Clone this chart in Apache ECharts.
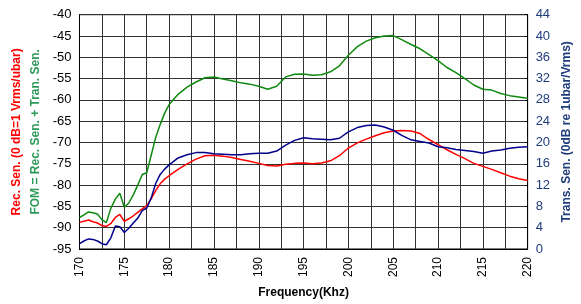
<!DOCTYPE html>
<html>
<head>
<meta charset="utf-8">
<script src="https://cdn.jsdelivr.net/npm/echarts@6/dist/echarts.min.js"></script>
<style>
    html,body{margin:0;padding:0;background:#fff;}
    #chart{width:581px;height:304px;}
</style>
</head>
<body>
<div id="chart"></div>
<script>
// frequency in kHz
var freq = [170,170.5,171,171.5,172,172.5,173,173.5,174,174.5,175,175.5,176,176.5,177,177.5,178,178.5,179,179.5,
    180,181,182,183,184,185,186,187,188,189,190,191,192,193,194,195,196,197,198,199,
    200,201,202,203,204,205,206,207,208,209,210,211,212,213,214,215,216,217,218,219,220];
// Rec. Sen. (dB, left axis)
var recSen = [-88.75,-88.5,-88.2,-88.6,-88.9,-89.5,-89.7,-89.0,-87.6,-86.9,-88.5,-87.9,-87.2,-86.4,-85.6,-84.8,-83.2,-81.3,-79.7,-78.6,
    -77.8,-76.3,-75.0,-73.9,-73.1,-73.0,-73.2,-73.5,-74.0,-74.4,-74.9,-75.4,-75.5,-75.1,-74.9,-74.8,-75.0,-74.8,-74.3,-73.1,
    -71.3,-70.1,-69.2,-68.4,-67.7,-67.3,-67.2,-67.3,-67.9,-69.3,-70.5,-71.7,-72.8,-73.8,-74.9,-75.6,-76.3,-77.1,-77.9,-78.5,-78.9];
// FOM (dB, left axis)
var fom = [-87.6,-87.0,-86.3,-86.5,-86.8,-88.1,-88.8,-85.4,-83.3,-81.9,-85.2,-84.2,-82.3,-80.0,-77.5,-77.1,-73.0,-68.8,-65.8,-63.1,
    -61.1,-58.7,-57.0,-55.8,-54.8,-54.6,-55.1,-55.5,-56.0,-56.3,-56.8,-57.5,-56.8,-54.6,-54.0,-53.9,-54.2,-54.1,-53.4,-52.0,
    -49.5,-47.5,-46.2,-45.4,-45.0,-44.9,-45.9,-47.0,-48.0,-49.4,-50.8,-52.4,-53.6,-55.0,-56.5,-57.5,-57.7,-58.5,-59.0,-59.3,-59.6];
// Trans. Sen. (dB, right axis)
var transSen = [1.0,1.5,1.9,1.8,1.5,1.0,0.8,2.1,4.3,4.2,3.1,3.9,4.9,5.8,7.2,7.7,9.6,12.3,14.0,15.0,
    15.8,17.1,17.7,18.1,18.1,17.9,17.8,17.7,17.7,17.9,18.0,18.0,18.4,19.5,20.4,20.9,20.7,20.6,20.5,20.8,
    22.0,22.8,23.2,23.3,22.9,22.3,21.3,20.5,20.2,19.9,19.2,19.0,18.7,18.5,18.3,18.0,18.4,18.6,18.9,19.1,19.2];

function pairs(ys){
    var out = [];
    for(var i=0;i<freq.length;i++){
        out.push([freq[i], ys[i]]);
    }
    return out;
}

var myChart = echarts.init(document.getElementById('chart'));
var font = 'Liberation Sans, Arial, sans-serif';
var gridLine = {show:true, lineStyle:{color:'#333', width:1}};

var option = {
    animation:false,
    textStyle:{fontFamily:font},
    grid:{
        left:79.5, right:52.5, top:14.7, bottom:54.7,
        show:true, borderColor:'#000', borderWidth:1
    },
    xAxis:{
        type:'value',
        min:170, max:220, interval:5,
        name:'Frequency(Khz)',
        nameLocation:'middle',
        nameGap:38,
        nameTextStyle:{fontSize:12, fontWeight:'bold', color:'#000'},
        axisLine:{lineStyle:{color:'#000'}},
        axisTick:{show:false},
        minorTick:{show:false, splitNumber:2},
        splitLine:gridLine,
        minorSplitLine:{show:true, lineStyle:{color:'#333', width:1}},
        axisLabel:{rotate:90, fontSize:12, color:'#000', margin:8}
    },
    yAxis:[
        {
            type:'value',
            min:-95, max:-40, interval:5,
            name:'{r|Rec. Sen. (0 dB=1 Vrms/ubar)}\n{g|FOM = Rec. Sen. + Tran. Sen.}',
            nameLocation:'middle',
            nameRotate:90,
            nameGap:34,
            nameTextStyle:{
                rich:{
                    r:{fontSize:12, fontWeight:'bold', color:'#ff0000', lineHeight:19, fontFamily:font},
                    g:{fontSize:12, fontWeight:'bold', color:'#2e9a5a', lineHeight:19, fontFamily:font}
                }
            },
            axisLine:{show:true, lineStyle:{color:'#000'}},
            axisTick:{show:false},
            splitLine:gridLine,
            axisLabel:{fontSize:13, color:'#000', margin:8}
        },
        {
            type:'value',
            min:0, max:44, interval:4,
            position:'right',
            name:'Trans. Sen. (0dB re 1ubar/Vrms)',
            nameLocation:'middle',
            nameRotate:90,
            nameGap:28,
            nameTextStyle:{fontSize:12, fontWeight:'bold', color:'#1f3c7c'},
            axisLine:{show:true, lineStyle:{color:'#000'}},
            axisTick:{show:true, length:3, inside:true, lineStyle:{color:'#000'}},
            splitLine:{show:false},
            axisLabel:{fontSize:13, color:'#1f3c7c', margin:8}
        }
    ],
    series:[
        {
            name:'FOM', type:'line', yAxisIndex:0,
            showSymbol:false, smooth:false,
            lineStyle:{color:'#108a10', width:1.5},
            data:pairs(fom)
        },
        {
            name:'Rec. Sen.', type:'line', yAxisIndex:0,
            showSymbol:false, smooth:false,
            lineStyle:{color:'#ff0000', width:1.5},
            data:pairs(recSen)
        },
        {
            name:'Trans. Sen.', type:'line', yAxisIndex:1,
            showSymbol:false, smooth:false,
            lineStyle:{color:'#00008b', width:1.5},
            data:pairs(transSen)
        }
    ]
};
myChart.setOption(option);
</script>
</body>
</html>
